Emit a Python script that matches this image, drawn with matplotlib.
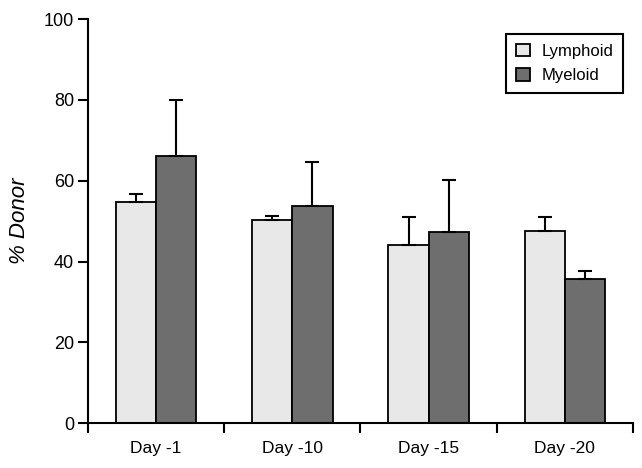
import matplotlib
matplotlib.use("Agg")
import matplotlib.pyplot as plt
import numpy as np

plt.rcParams['font.family'] = ['Liberation Sans', 'DejaVu Sans']

# data
days = ["Day -1", "Day -10", "Day -15", "Day -20"]
lymphoid = [54.7, 50.2, 44.1, 47.6]
lymphoid_err = [2.0, 1.0, 7.0, 3.5]
myeloid = [66.1, 53.7, 47.3, 35.6]
myeloid_err = [14.0, 11.0, 13.0, 2.0]

fig = plt.figure(figsize=(6.42, 4.68), dpi=100)
ax = fig.add_axes([0.137, 0.096, 0.849, 0.863])

x = np.arange(len(days))
w = 0.295
err_kw = dict(ecolor='black', elinewidth=1.5, capsize=5, capthick=1.5)

ax.bar(x - w / 2, lymphoid, w, color='#e8e8e8', edgecolor='black',
       linewidth=1.3, label='Lymphoid',
       yerr=[np.zeros(len(days)), lymphoid_err], error_kw=err_kw, zorder=2)
ax.bar(x + w / 2, myeloid, w, color='#6e6e6e', edgecolor='black',
       linewidth=1.3, label='Myeloid',
       yerr=[np.zeros(len(days)), myeloid_err], error_kw=err_kw, zorder=2)

ax.set_xlim(-0.5, len(days) - 0.5)
ax.set_ylim(0, 100)
ax.set_yticks([0, 20, 40, 60, 80, 100])
ax.set_xticks(x)
ax.set_xticklabels(days)
ax.set_xticks(np.arange(-0.5, len(days), 1.0), minor=True)
ax.tick_params(axis='x', which='major', length=0, pad=13, labelsize=12.5)
ax.tick_params(axis='x', which='minor', length=7, width=1.5, direction='out')
ax.tick_params(axis='y', length=7, width=1.5, direction='out', labelsize=13, pad=3)

for s in ['top', 'right']:
    ax.spines[s].set_visible(False)
for s in ['left', 'bottom']:
    ax.spines[s].set_linewidth(1.5)
ax.spines['bottom'].set_zorder(3)

ax.set_ylabel('% Donor', fontstyle='italic', fontsize=16, labelpad=10)

leg = ax.legend(loc='upper right', bbox_to_anchor=(0.997, 0.985), fontsize=12,
                fancybox=False, edgecolor='black', framealpha=1,
                handlelength=0.8, handleheight=0.8, handletextpad=0.7,
                borderpad=0.6, labelspacing=0.55)
leg.get_frame().set_linewidth(1.5)

fig.savefig("out.png", dpi=100)
